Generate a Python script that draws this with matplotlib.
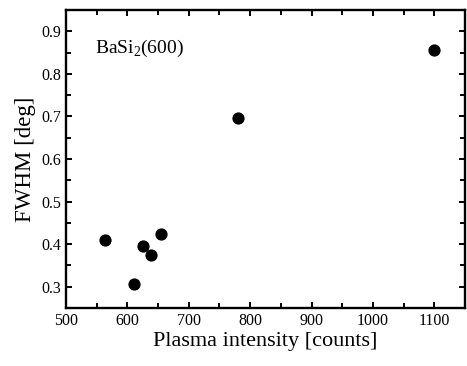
import matplotlib.pyplot as plt
from matplotlib.ticker import MultipleLocator

plt.rcParams['font.family'] = ['Liberation Serif', 'DejaVu Serif']
plt.rcParams['mathtext.fontset'] = 'custom'
plt.rcParams['mathtext.rm'] = 'Liberation Serif'

# datos
intensity = [563, 611, 626, 639, 655, 781, 1100]
fwhm = [0.409, 0.306, 0.396, 0.374, 0.423, 0.697, 0.856]

fig = plt.figure(figsize=(4.67, 3.66), dpi=100)
ax = fig.add_axes([0.1413, 0.1585, 0.8544, 0.8142])

ax.plot(intensity, fwhm, 'o', color='black', markersize=7.8)

ax.set_xlim(500, 1150)
ax.set_ylim(0.25, 0.95)
ax.xaxis.set_major_locator(MultipleLocator(100))
ax.xaxis.set_minor_locator(MultipleLocator(50))
ax.yaxis.set_major_locator(MultipleLocator(0.1))
ax.yaxis.set_minor_locator(MultipleLocator(0.05))
ax.set_yticks([0.3, 0.4, 0.5, 0.6, 0.7, 0.8, 0.9])

ax.tick_params(which='both', direction='in', top=True, right=True, labelsize=11.5)
ax.tick_params(which='major', length=4.5, width=1.4)
ax.tick_params(which='minor', length=3.5, width=1.4)
for s in ax.spines.values():
    s.set_linewidth(1.7)

ax.set_xlabel('Plasma intensity [counts]', fontsize=16, labelpad=2)
ax.set_ylabel('FWHM [deg]', fontsize=16.5, labelpad=4)

ax.text(0.072, 0.855, r'BaSi$_\mathrm{2}$(600)', transform=ax.transAxes, fontsize=14)

fig.savefig('out.png', dpi=100)
